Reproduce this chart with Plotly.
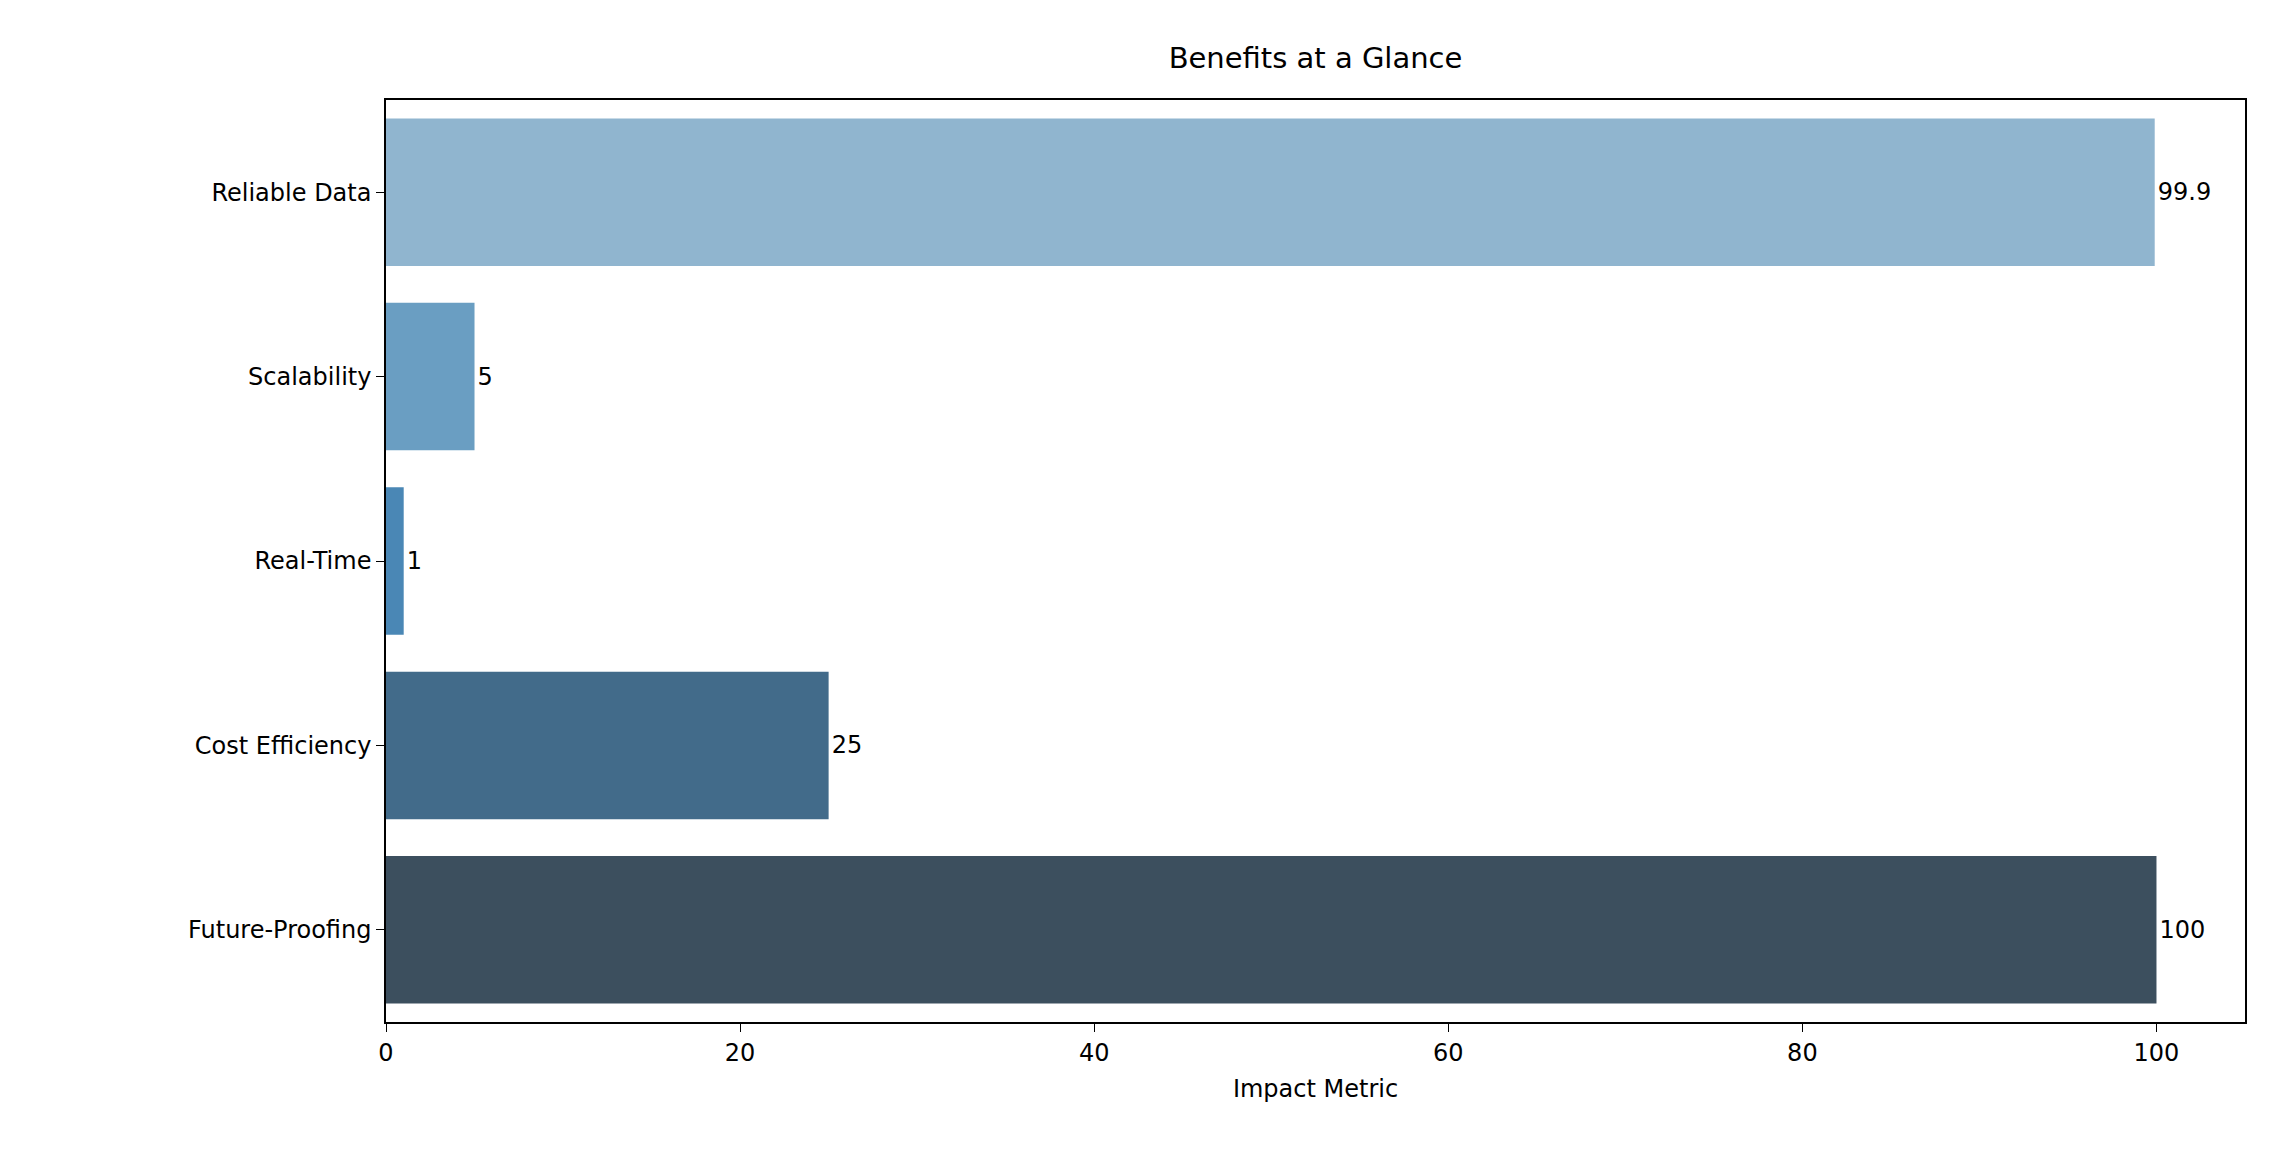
import plotly.graph_objects as go

categories = ["Reliable Data", "Scalability", "Real-Time", "Cost Efficiency", "Future-Proofing"]
values = [99.9, 5, 1, 25, 100]
labels = ["99.9", "5", "1", "25", "100"]
colors = ["#90b5cf", "#6a9ec2", "#4a87b5", "#426b8a", "#3c4f5e"]

fig = go.Figure(go.Bar(
    x=values, y=categories, orientation="h", width=0.8,
    marker=dict(color=colors, line=dict(width=0)),
    text=labels, textposition="outside", cliponaxis=False,
    textfont=dict(size=24, color="black"),
))
fig.update_layout(
    width=2287, height=1176, plot_bgcolor="white", paper_bgcolor="white",
    margin=dict(l=378, r=50, t=92, b=162),
    font=dict(family="DejaVu Sans", size=24, color="black"),
    title=dict(text="Benefits at a Glance", x=0.5, xref="paper", xanchor="center",
               y=1 - 50/1176, yanchor="middle", font=dict(size=29)),
    showlegend=False,
)
fig.update_xaxes(range=[0, 105], dtick=20, showgrid=False, zeroline=False,
                 showline=True, linecolor="black", linewidth=1.5, mirror=True,
                 ticks="outside", ticklen=8, tickcolor="black",
                 title=dict(text="Impact Metric", font=dict(size=24)))
fig.update_yaxes(autorange="reversed", showgrid=False, zeroline=False,
                 showline=True, linecolor="black", linewidth=1.5, mirror=True,
                 ticks="outside", ticklen=8, tickcolor="black")
fig.write_html("out.html")
